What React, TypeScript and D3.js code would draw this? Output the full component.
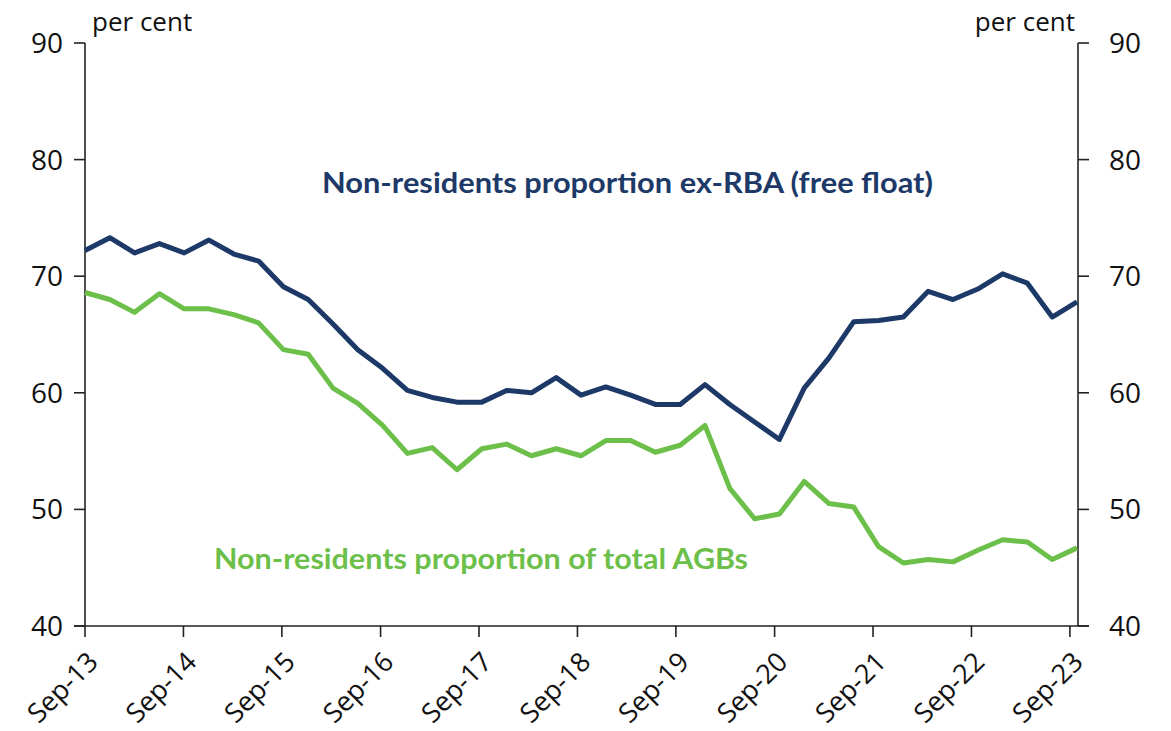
import React from "react";
import * as d3 from "d3";

const dates: string[] = [
  "2013-09","2013-12","2014-03","2014-06","2014-09","2014-12","2015-03","2015-06",
  "2015-09","2015-12","2016-03","2016-06","2016-09","2016-12","2017-03","2017-06",
  "2017-09","2017-12","2018-03","2018-06","2018-09","2018-12","2019-03","2019-06",
  "2019-09","2019-12","2020-03","2020-06","2020-09","2020-12","2021-03","2021-06",
  "2021-09","2021-12","2022-03","2022-06","2022-09","2022-12","2023-03","2023-06","2023-09",
];

const freeFloat: number[] = [
  72.2, 73.3, 72.0, 72.8, 72.0, 73.1, 71.9, 71.3,
  69.1, 68.0, 65.9, 63.7, 62.1, 60.2, 59.6, 59.2,
  59.2, 60.2, 60.0, 61.3, 59.8, 60.5, 59.8, 59.0,
  59.0, 60.7, 59.0, 57.5, 56.0, 60.4, 63.0, 66.1,
  66.2, 66.5, 68.7, 68.0, 68.9, 70.2, 69.4, 66.5, 67.8,
];

const totalAGBs: number[] = [
  68.6, 68.0, 66.9, 68.5, 67.2, 67.2, 66.7, 66.0,
  63.7, 63.3, 60.4, 59.1, 57.2, 54.8, 55.3, 53.4,
  55.2, 55.6, 54.6, 55.2, 54.6, 55.9, 55.9, 54.9,
  55.5, 57.2, 51.8, 49.2, 49.6, 52.4, 50.5, 50.2,
  46.8, 45.4, 45.7, 45.5, 46.5, 47.4, 47.2, 45.7, 46.7,
];

const yTicks: number[] = [40, 50, 60, 70, 80, 90];
const xTickLabels: string[] = [
  "Sep-13","Sep-14","Sep-15","Sep-16","Sep-17","Sep-18",
  "Sep-19","Sep-20","Sep-21","Sep-22","Sep-23",
];
const xTickYears: number[] = [2013, 2014, 2015, 2016, 2017, 2018, 2019, 2020, 2021, 2022, 2023];

const NAVY = "#1d3968";
const GREEN = "#6cc04a";
const FONT = "'Open Sans', 'DejaVu Sans', sans-serif";
const BOLD = "Lato, 'Open Sans', sans-serif";

export default function App() {
  const W = 1171, H = 731;
  const left = 85, right = 1078, top = 43, bottom = 626;

  const x = d3.scaleLinear().domain([0, dates.length - 1]).range([left, right - 1]);
  const xTick = d3
    .scaleTime()
    .domain([new Date(2013, 8, 1), new Date(2023, 9, 1)])
    .range([left, right]);
  const y = d3.scaleLinear().domain([40, 90]).range([bottom, top]);

  const line = d3
    .line<number>()
    .x((_, i) => x(i))
    .y((d) => y(d));

  return (
    <svg width={W} height={H} style={{ position: "absolute", left: 0, top: 0, background: "#fff" }}>
      {/* axes */}
      <line x1={left} x2={left} y1={top} y2={bottom} stroke="#222" strokeWidth={1.6} />
      <line x1={right} x2={right} y1={top} y2={bottom} stroke="#222" strokeWidth={1.6} />
      <line x1={left - 11} x2={right + 11} y1={bottom} y2={bottom} stroke="#222" strokeWidth={1.6} />
      {yTicks.map((t) => (
        <g key={t}>
          <line x1={left - 11} x2={left} y1={y(t)} y2={y(t)} stroke="#222" strokeWidth={1.6} />
          <line x1={right} x2={right + 11} y1={y(t)} y2={y(t)} stroke="#222" strokeWidth={1.6} />
          <text x={63} y={y(t)} dy="0.36em" textAnchor="end" fontFamily={FONT} fontSize={28} fill="#111">
            {t}
          </text>
          <text x={1109} y={y(t)} dy="0.36em" textAnchor="start" fontFamily={FONT} fontSize={28} fill="#111">
            {t}
          </text>
        </g>
      ))}
      {xTickYears.map((yr, i) => {
        const tx = xTick(new Date(yr, 8, 1));
        return (
          <g key={yr}>
            <line x1={tx} x2={tx} y1={bottom} y2={bottom + 11} stroke="#222" strokeWidth={1.6} />
            <text
              transform={`translate(${tx + 8},${bottom + 31}) rotate(-45)`}
              textAnchor="end"
              dy="0.35em"
              fontFamily={FONT}
              fontSize={27}
              fill="#111"
            >
              {xTickLabels[i]}
            </text>
          </g>
        );
      })}
      <text x={92} y={31} fontFamily={FONT} fontSize={26} fill="#111">per cent</text>
      <text x={1075} y={31} textAnchor="end" fontFamily={FONT} fontSize={26} fill="#111">per cent</text>

      {/* series */}
      <path d={line(totalAGBs) || ""} fill="none" stroke={GREEN} strokeWidth={5} strokeLinejoin="round" />
      <path d={line(freeFloat) || ""} fill="none" stroke={NAVY} strokeWidth={5} strokeLinejoin="round" />

      {/* labels */}
      <text x={322} y={193} fontFamily={BOLD} fontWeight={700} fontSize={29} fill={NAVY}
        textLength={611} lengthAdjust="spacingAndGlyphs">
        Non-residents proportion ex-RBA (free float)
      </text>
      <text x={214} y={569} fontFamily={BOLD} fontWeight={700} fontSize={29} fill={GREEN}
        textLength={534} lengthAdjust="spacingAndGlyphs">
        Non-residents proportion of total AGBs
      </text>
    </svg>
  );
}
